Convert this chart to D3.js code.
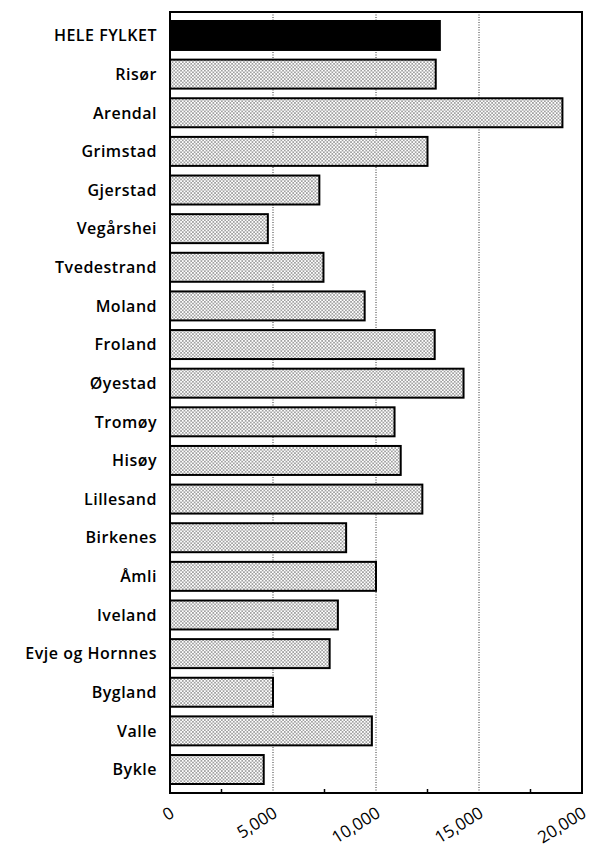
<!DOCTYPE html>
<html>
<head>
<meta charset="utf-8">
<script src="https://cdn.jsdelivr.net/npm/d3@7"></script>
<style>
  body { margin: 0; background: #fff; }
  svg { display: block; }
</style>
</head>
<body>
<div id="chart"></div>
<script>
// Kommuner i fylket, fra topp til bunn
var kommuner = ["HELE FYLKET", "Risør", "Arendal", "Grimstad", "Gjerstad", "Vegårshei",
  "Tvedestrand", "Moland", "Froland", "Øyestad", "Tromøy", "Hisøy", "Lillesand",
  "Birkenes", "Åmli", "Iveland", "Evje og Hornnes", "Bygland", "Valle", "Bykle"];

// Verdier lest av figuren
var verdier = [13100, 12900, 19050, 12500, 7250, 4750, 7450, 9450, 12850, 14250,
  10900, 11200, 12250, 8550, 10000, 8150, 7750, 5000, 9800, 4550];

var tickVerdier = [0, 5000, 10000, 15000, 20000];
var gridVerdier = [5000, 10000, 15000];
var minorVerdier = [2500, 7500, 12500, 17500];

var data = kommuner.map(function(k, i) { return { navn: k, verdi: verdier[i] }; });

var W = 594, H = 844;
var margin = { top: 12, right: 12, bottom: 51, left: 170 };
var width = W - margin.left - margin.right,
    height = H - margin.top - margin.bottom;

var svg = d3.select("#chart").append("svg")
    .attr("width", W)
    .attr("height", H);

// dotted raster fill
var defs = svg.append("defs");
var pat = defs.append("pattern")
    .attr("id", "dots")
    .attr("patternUnits", "userSpaceOnUse")
    .attr("width", 3.4)
    .attr("height", 3.4);
pat.append("rect").attr("width", 3.4).attr("height", 3.4).attr("fill", "#fff");
pat.append("circle").attr("cx", 0.85).attr("cy", 0.85).attr("r", 0.65).attr("fill", "#111");
pat.append("circle").attr("cx", 2.55).attr("cy", 2.55).attr("r", 0.65).attr("fill", "#111");

var g = svg.append("g")
    .attr("transform", "translate(" + margin.left + "," + margin.top + ")");

var x = d3.scaleLinear().domain([0, 20000]).range([0, width]);
var y = d3.scaleBand()
    .domain(kommuner)
    .range([0, height])
    .paddingInner(0.25)
    .paddingOuter(0.233);

// gridlines
g.selectAll(".grid")
    .data(gridVerdier)
    .enter().append("line")
    .attr("class", "grid")
    .attr("x1", function(d) { return x(d); })
    .attr("x2", function(d) { return x(d); })
    .attr("y1", 0)
    .attr("y2", height)
    .style("stroke", "#333")
    .style("stroke-width", 1)
    .style("stroke-dasharray", "1,1.5");

// bars
g.selectAll(".bar")
    .data(data)
    .enter().append("rect")
    .attr("class", "bar")
    .attr("x", x(0))
    .attr("y", function(d) { return y(d.navn); })
    .attr("width", function(d) { return x(d.verdi) - x(0); })
    .attr("height", y.bandwidth())
    .style("fill", function(d, i) { return i === 0 ? "#000" : "url(#dots)"; })
    .style("stroke", "#000")
    .style("stroke-width", 2);

// frame
g.append("rect")
    .attr("x", 0).attr("y", 0)
    .attr("width", width).attr("height", height)
    .style("fill", "none")
    .style("stroke", "#000")
    .style("stroke-width", 2);

// minor ticks along bottom
g.selectAll(".minor")
    .data(minorVerdier)
    .enter().append("line")
    .attr("x1", function(d) { return x(d); })
    .attr("x2", function(d) { return x(d); })
    .attr("y1", height)
    .attr("y2", height - 4)
    .style("stroke", "#000")
    .style("stroke-width", 1.5);

// category labels
g.selectAll(".lbl")
    .data(data)
    .enter().append("text")
    .attr("x", -13)
    .attr("y", function(d) { return y(d.navn) + y.bandwidth() / 2; })
    .attr("dy", "0.36em")
    .style("text-anchor", "end")
    .style("font-family", "'Open Sans', sans-serif")
    .style("font-weight", 600)
    .style("font-size", "16px")
    .style("letter-spacing", "0.5px")
    .style("fill", "#000")
    .text(function(d) { return d.navn; });

// x axis labels, rotated
var xAxis = d3.axisBottom(x)
    .tickValues(tickVerdier)
    .tickFormat(d3.format(","))
    .tickSize(0);

var ax = g.append("g")
    .attr("transform", "translate(0," + height + ")")
    .call(xAxis);
ax.select(".domain").remove();
ax.selectAll("text")
    .attr("y", 0)
    .attr("dy", 0)
    .attr("transform", "translate(5,23) rotate(-32)")
    .style("text-anchor", "end")
    .style("font-family", "'Open Sans', sans-serif")
    .style("font-weight", 500)
    .style("font-size", "17px")
    .style("fill", "#000");
</script>
</body>
</html>
